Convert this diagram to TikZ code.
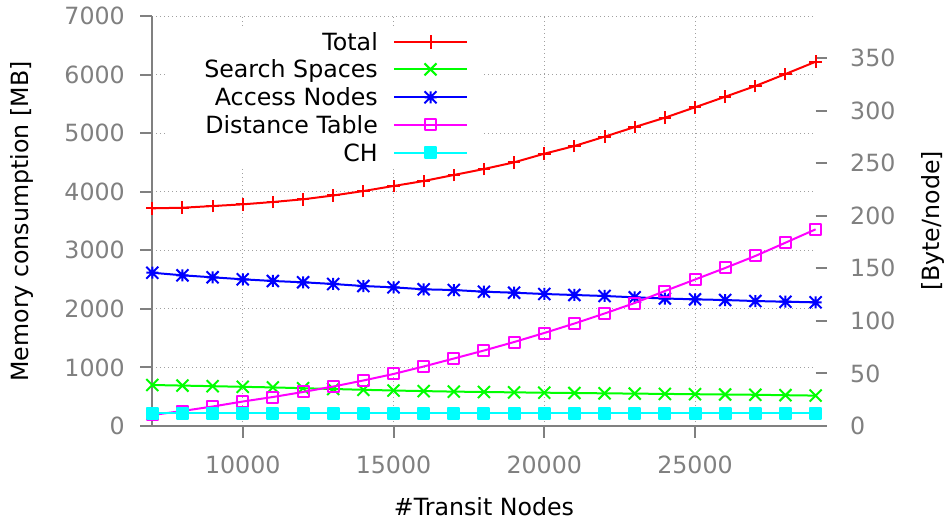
\documentclass[tikz,border=0pt]{standalone}
\usepackage{fontspec}
\setmainfont{DejaVu Sans}

\definecolor{axisgray}{HTML}{808080}
\definecolor{gridgray}{HTML}{A0A0A0}
\definecolor{gpred}{HTML}{FF0000}
\definecolor{gpgreen}{HTML}{00FF00}
\definecolor{gpblue}{HTML}{0000FF}
\definecolor{gpmagenta}{HTML}{FF00FF}
\definecolor{gpcyan}{HTML}{00FFFF}

% gnuplot-like point symbols
\pgfdeclareplotmark{gpplus}{%
  \pgfpathmoveto{\pgfqpoint{-\pgfplotmarksize}{0pt}}%
  \pgfpathlineto{\pgfqpoint{\pgfplotmarksize}{0pt}}%
  \pgfpathmoveto{\pgfqpoint{0pt}{-\pgfplotmarksize}}%
  \pgfpathlineto{\pgfqpoint{0pt}{\pgfplotmarksize}}%
  \pgfusepathqstroke}
\pgfdeclareplotmark{gpcross}{%
  \pgfpathmoveto{\pgfqpoint{-\pgfplotmarksize}{-\pgfplotmarksize}}%
  \pgfpathlineto{\pgfqpoint{\pgfplotmarksize}{\pgfplotmarksize}}%
  \pgfpathmoveto{\pgfqpoint{-\pgfplotmarksize}{\pgfplotmarksize}}%
  \pgfpathlineto{\pgfqpoint{\pgfplotmarksize}{-\pgfplotmarksize}}%
  \pgfusepathqstroke}
\pgfdeclareplotmark{gpstar}{%
  \pgfpathmoveto{\pgfqpoint{-\pgfplotmarksize}{0pt}}%
  \pgfpathlineto{\pgfqpoint{\pgfplotmarksize}{0pt}}%
  \pgfpathmoveto{\pgfqpoint{0pt}{-\pgfplotmarksize}}%
  \pgfpathlineto{\pgfqpoint{0pt}{\pgfplotmarksize}}%
  \pgfpathmoveto{\pgfqpoint{-\pgfplotmarksize}{-\pgfplotmarksize}}%
  \pgfpathlineto{\pgfqpoint{\pgfplotmarksize}{\pgfplotmarksize}}%
  \pgfpathmoveto{\pgfqpoint{-\pgfplotmarksize}{\pgfplotmarksize}}%
  \pgfpathlineto{\pgfqpoint{\pgfplotmarksize}{-\pgfplotmarksize}}%
  \pgfusepathqstroke}
\pgfdeclareplotmark{gpbox}{%
  \pgfpathrectangle{\pgfqpoint{-\pgfplotmarksize}{-\pgfplotmarksize}}%
    {\pgfqpoint{2\pgfplotmarksize}{2\pgfplotmarksize}}%
  \pgfusepathqstroke}
\pgfdeclareplotmark{gpboxfill}{%
  \pgfpathrectangle{\pgfqpoint{-\pgfplotmarksize}{-\pgfplotmarksize}}%
    {\pgfqpoint{2\pgfplotmarksize}{2\pgfplotmarksize}}%
  \pgfusepathqfillstroke}

\begin{document}
\begin{tikzpicture}[x=1pt, y=1pt,
  font=\fontsize{23.7}{28}\selectfont,
  ticklabel/.style={text=axisgray, inner sep=0pt},
  axislabel/.style={text=black, inner sep=0pt},
  legendtext/.style={text=black, inner sep=0pt, anchor=base east},
  axisline/.style={draw=axisgray, line width=2pt},
  gridline/.style={draw=gridgray, line width=1pt, dash pattern=on 1pt off 3pt},
  series/.style={line width=2pt, line join=round},
  totalstyle/.style={series, draw=gpred, mark=gpplus, mark size=6.3pt},
  searchstyle/.style={series, draw=gpgreen, mark=gpcross, mark size=6pt},
  accessstyle/.style={series, draw=gpblue, mark=gpstar, mark size=6pt},
  diststyle/.style={series, draw=gpmagenta, mark=gpbox, mark size=5.5pt},
  chstyle/.style={series, draw=gpcyan, mark=gpboxfill, mark size=5.5pt, mark options={fill=gpcyan}},
]
\useasboundingbox (0,0) rectangle (945,523);

% plot frame: left edge 152.3, right edge 815.6, bottom 97, top 507
% grid (left axis ticks and x ticks)
\foreach \k in {1,...,7}
  \draw[gridline] (152.3,{97+\k*58.57}) -- (815.6,{97+\k*58.57});
\foreach \t in {10,15,20,25}
  \draw[gridline] ({-58.75+\t*30.15},97) -- ({-58.75+\t*30.15},507);

% key background
\fill[white] (167,355) rectangle (481,495);

% axes and ticks
\draw[axisline] (152.3,507) -- (152.3,97) -- (815.6,97);
\foreach \k in {0,...,7}
  \draw[axisline] (140,{97+\k*58.57}) -- (152.3,{97+\k*58.57});
\foreach \t in {10,15,20,25}
  \draw[axisline] ({-58.75+\t*30.15},97) -- ({-58.75+\t*30.15},85);
\foreach \v in {0,50,...,350}
  \draw[axisline] (815.6,{97+\v*1.0514}) -- (827,{97+\v*1.0514});

% tick labels
\foreach \v [count=\i from 0] in {0,1000,2000,3000,4000,5000,6000,7000}
  \node[ticklabel, anchor=east] (yl\i) at (125,{97+\i*58.57}) {\v};
\foreach \t in {10,15,20,25}
  \node[ticklabel] (xl\t) at ({-58.75+\t*30.15},58) {\t000};
\foreach \v in {0,50,...,350}
  \node[ticklabel, anchor=west] (yr\v) at (850,{97+\v*1.0514}) {\v};

% axis titles
\node[axislabel, rotate=90] (ytitle) at (22,301.5) {Memory consumption [MB]};
\node[axislabel, rotate=90] (y2title) at (932.5,302) {[Byte/node]};
\node[axislabel] (xtitle) at (484,16) {\#Transit Nodes};

% data, x in thousands of transit nodes, y in MB
\begin{scope}[shift={(-58.75pt,97pt)}, x=30.15pt, y=0.05857pt]
  \draw[totalstyle] plot coordinates {(7,3717) (8,3727) (9,3756) (10,3785)
    (11,3825) (12,3871) (13,3936) (14,4012) (15,4098) (16,4183) (17,4286)
    (18,4388) (19,4502) (20,4649) (21,4781) (22,4940) (23,5105) (24,5264)
    (25,5442) (26,5622) (27,5805) (28,6010) (29,6220)};
  \draw[searchstyle] plot coordinates {(7,700) (8,690) (9,680) (10,669)
    (11,659) (12,645) (13,632) (14,618) (15,606) (16,596) (17,587) (18,581)
    (19,574) (20,569) (21,563) (22,558) (23,553) (24,548) (25,543) (26,538)
    (27,533) (28,526) (29,519)};
  \draw[accessstyle] plot coordinates {(7,2617) (8,2573) (9,2539) (10,2505)
    (11,2476) (12,2454) (13,2425) (14,2390) (15,2368) (16,2334) (17,2322)
    (18,2293) (19,2276) (20,2254) (21,2237) (22,2220) (23,2197) (24,2177)
    (25,2163) (26,2151) (27,2134) (28,2122) (29,2112)};
  \draw[diststyle] plot coordinates {(7,188) (8,256) (9,333) (10,418)
    (11,495) (12,581) (13,674) (14,777) (15,888) (16,1016) (17,1152)
    (18,1289) (19,1434) (20,1588) (21,1750) (22,1921) (23,2100) (24,2305)
    (25,2501) (26,2698) (27,2903) (28,3130) (29,3358)};
  \draw[chstyle] plot coordinates {(7,222) (8,222) (9,222) (10,222) (11,222)
    (12,222) (13,222) (14,222) (15,222) (16,222) (17,222) (18,222) (19,222)
    (20,222) (21,222) (22,222) (23,222) (24,222) (25,222) (26,222) (27,222)
    (28,222) (29,222)};
\end{scope}

% key
\node[legendtext] (kTotal)  at (378,472.7) {Total};
\node[legendtext] (kSearch) at (378,445.0) {Search Spaces};
\node[legendtext] (kAccess) at (378,417.1) {Access Nodes};
\node[legendtext] (kDist)   at (378,389.4) {Distance Table};
\node[legendtext] (kCH)     at (378,361.7) {CH};
\draw[totalstyle, mark size=7pt, mark indices={2}]  plot coordinates {(394.3,481.3) (430.5,481.3) (466.7,481.3)};
\draw[searchstyle, mark indices={2}] plot coordinates {(394.3,453.6) (430.5,453.6) (466.7,453.6)};
\draw[accessstyle, mark indices={2}] plot coordinates {(394.3,425.7) (430.5,425.7) (466.7,425.7)};
\draw[diststyle, mark indices={2}]   plot coordinates {(394.3,398) (430.5,398) (466.7,398)};
\draw[chstyle, mark indices={2}]     plot coordinates {(394.3,370.3) (430.5,370.3) (466.7,370.3)};
\end{tikzpicture}
\end{document}
